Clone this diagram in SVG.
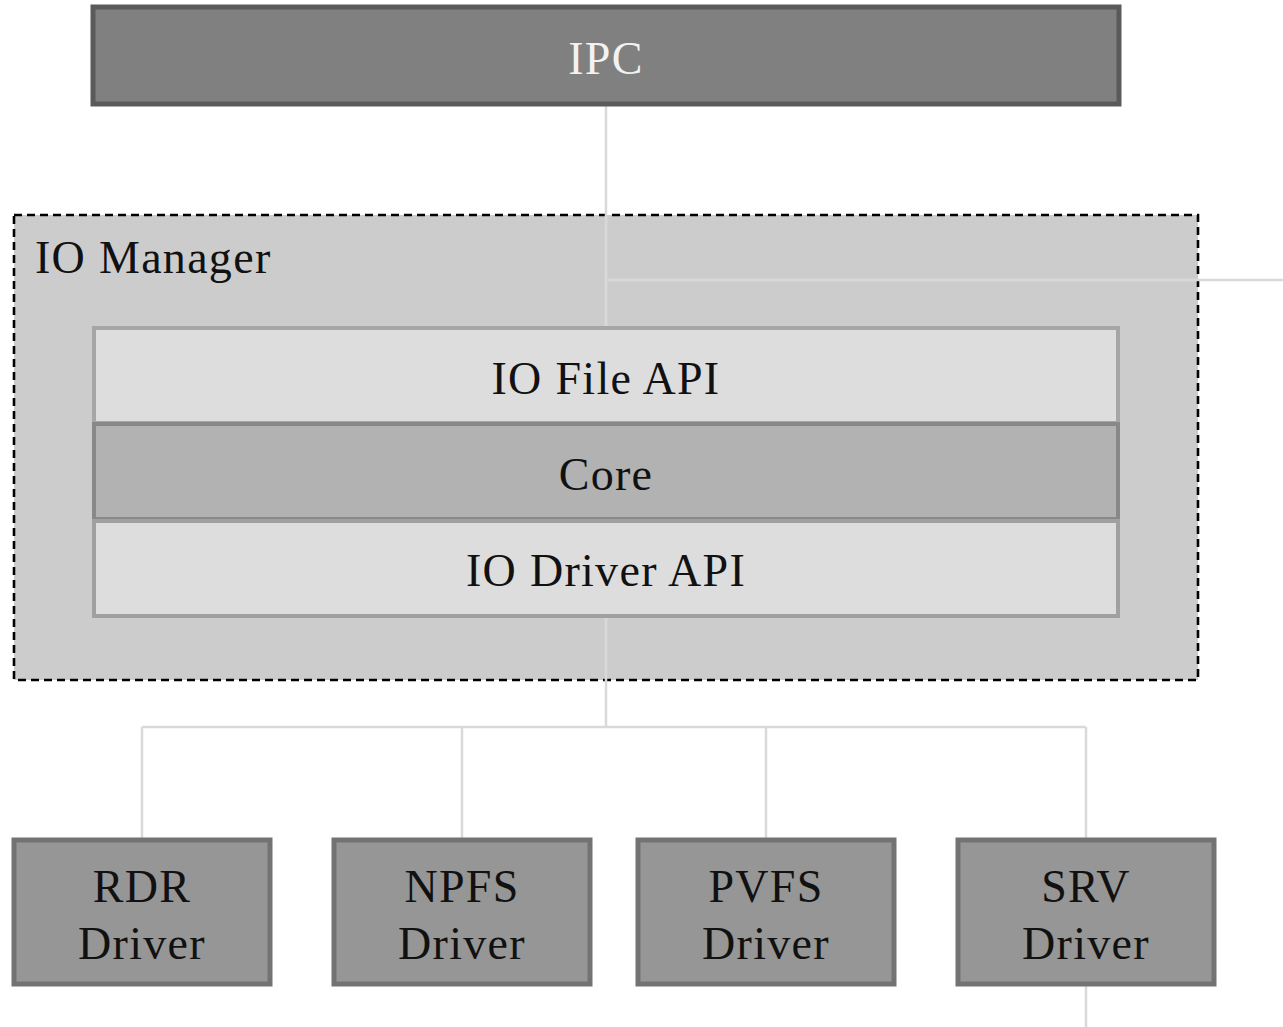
<svg xmlns="http://www.w3.org/2000/svg" width="1283" height="1027" viewBox="0 0 1283 1027">
<style>
text{font-family:"Liberation Serif","DejaVu Serif",serif;font-size:46px;letter-spacing:1.3px;fill:#111;text-anchor:middle}
.conn{stroke:#d9d9d9;stroke-width:2.5;fill:none}
.drv{fill:#969696;stroke:#737373;stroke-width:5}
</style>
<rect width="1283" height="1027" fill="#fff"/>
<g id="iomanager">
<rect x="14" y="215" width="1184" height="465" fill="#cccccc" stroke="#000" stroke-width="2.6" stroke-dasharray="8,5"/>
<text x="35" y="273" style="text-anchor:start">IO Manager</text>
</g>
<g id="connectors">
<path class="conn" d="M606,104 V328 M606,280 H1283"/>
<path class="conn" d="M606,616 V727 M142,727 H1086 M142,727 V840 M462,727 V840 M766,727 V840 M1086,727 V840 M1086,985 V1027"/>
</g>
<g id="ipc">
<rect x="93" y="7" width="1026" height="97" fill="#808080" stroke="#5a5a5a" stroke-width="5"/>
<text x="606" y="74" style="fill:#f2f2f2">IPC</text>
</g>
<g id="iofileapi">
<rect x="94" y="328" width="1024" height="95" fill="#dddddd" stroke="#a6a6a6" stroke-width="4"/>
<text x="606" y="394">IO File API</text>
</g>
<g id="core">
<rect x="94" y="424" width="1024" height="95" fill="#b2b2b2" stroke="#888888" stroke-width="4"/>
<text x="606" y="490">Core</text>
</g>
<g id="iodriverapi">
<rect x="94" y="521" width="1024" height="95" fill="#dddddd" stroke="#a0a0a0" stroke-width="4"/>
<text x="606" y="586">IO Driver API</text>
</g>
<g id="rdr">
<rect class="drv" x="14" y="840" width="256" height="144"/>
<text x="142" y="902">RDR</text><text x="142" y="959">Driver</text>
</g>
<g id="npfs">
<rect class="drv" x="334" y="840" width="256" height="144"/>
<text x="462" y="902">NPFS</text><text x="462" y="959">Driver</text>
</g>
<g id="pvfs">
<rect class="drv" x="638" y="840" width="256" height="144"/>
<text x="766" y="902">PVFS</text><text x="766" y="959">Driver</text>
</g>
<g id="srv">
<rect class="drv" x="958" y="840" width="256" height="144"/>
<text x="1086" y="902">SRV</text><text x="1086" y="959">Driver</text>
</g>
</svg>
